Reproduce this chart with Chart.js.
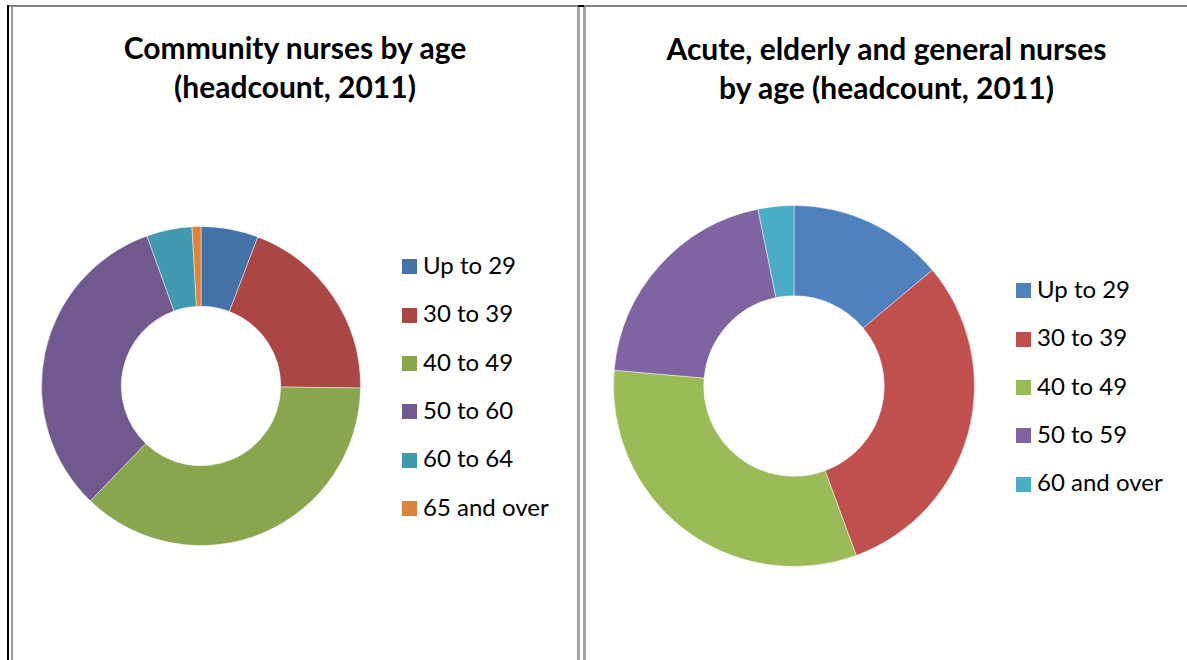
<!DOCTYPE html>
<html>
<head>
<meta charset="utf-8">
<script src="https://cdn.jsdelivr.net/npm/chart.js@4.4.1/dist/chart.umd.min.js"></script>
<style>
    body { margin: 0; background: #fff; width: 1187px; height: 660px; overflow: hidden; position: relative; font-family: Lato, "Noto Sans", sans-serif; }
    .line { position: absolute; }
    .title { position: absolute; text-align: center; font-weight: bold; font-size: 30px; line-height: 39px; color: #000; }
    .donut { position: absolute; }
    .legend { position: absolute; font-size: 24px; color: #000; }
    .legend .item { position: absolute; left: 0; white-space: nowrap; height: 24px; line-height: 24px; }
    .legend .box { display: inline-block; width: 15px; height: 15px; vertical-align: middle; margin-right: 6px; position: relative; top: -1px; }
</style>
</head>
<body>
<!-- frame lines -->
<div class="line" style="left:7px; top:5px; width:2px; height:655px; background:#000;"></div>
<div class="line" style="left:11px; top:7px; width:2px; height:653px; background:#9a9a9a;"></div>
<div class="line" style="left:9px; top:5px; width:1178px; height:2px; background:#858585;"></div>
<div class="line" style="left:578px; top:5px; width:6px; height:2px; background:#000;"></div>
<div class="line" style="left:577px; top:7px; width:3px; height:653px; background:#a4a4a4;"></div>
<div class="line" style="left:583px; top:7px; width:3px; height:653px; background:#a4a4a4;"></div>

<div class="title" style="left:13px; top:28px; width:564px;">Community nurses by age<br>(headcount, 2011)</div>
<div class="title" style="left:586px; top:29px; width:601px;">Acute, elderly and general nurses<br>by age (headcount, 2011)</div>

<div class="donut" style="left:41px; top:226px; width:320px; height:320px;"><canvas id="communityChart"></canvas></div>
<div class="donut" style="left:613px; top:205px; width:362px; height:362px;"><canvas id="acuteChart"></canvas></div>

<div class="legend" id="communityLegend" style="left:402px; top:253px;"></div>
<div class="legend" id="acuteLegend" style="left:1016px; top:277px;"></div>

<script>
// share of headcount (%)
const communityLabels = ['Up to 29', '30 to 39', '40 to 49', '50 to 60', '60 to 64', '65 and over'];
const communityShare = [5.8, 19.4, 37.0, 32.3, 4.6, 0.9];

const acuteLabels = ['Up to 29', '30 to 39', '40 to 49', '50 to 59', '60 and over'];
const acuteShare = [13.9, 30.5, 32.0, 20.4, 3.2];

const communityColors = ['#4572A7', '#AA4643', '#89A54E', '#71588F', '#4198AF', '#DB843D'];
const acuteColors = ['#4F81BD', '#C0504D', '#9BBB59', '#8064A2', '#4BACC6'];

function buildLegend(id, labels, colors) {
    const legend = document.getElementById(id);
    labels.forEach(function (label, i) {
        const item = document.createElement('div');
        item.className = 'item';
        item.style.top = (i * 48.3) + 'px';
        const box = document.createElement('span');
        box.className = 'box';
        box.style.background = colors[i];
        item.appendChild(box);
        item.appendChild(document.createTextNode(label));
        legend.appendChild(item);
    });
}

function drawDonut(id, labels, values, colors) {
    const ctx = document.getElementById(id).getContext('2d');
    return new Chart(ctx, {
        type: 'doughnut',
        data: {
            labels: labels,
            datasets: [{
                data: values,
                backgroundColor: colors,
                borderColor: 'rgba(255,255,255,0.45)',
                borderWidth: 1
            }]
        },
        options: {
            responsive: true,
            maintainAspectRatio: false,
            animation: false,
            cutout: '50%',
            layout: { padding: 0 },
            plugins: {
                legend: { display: false },
                title: { display: false },
                tooltip: { enabled: false }
            }
        }
    });
}

drawDonut('communityChart', communityLabels, communityShare, communityColors);
drawDonut('acuteChart', acuteLabels, acuteShare, acuteColors);
buildLegend('communityLegend', communityLabels, communityColors);
buildLegend('acuteLegend', acuteLabels, acuteColors);
</script>
</body>
</html>
